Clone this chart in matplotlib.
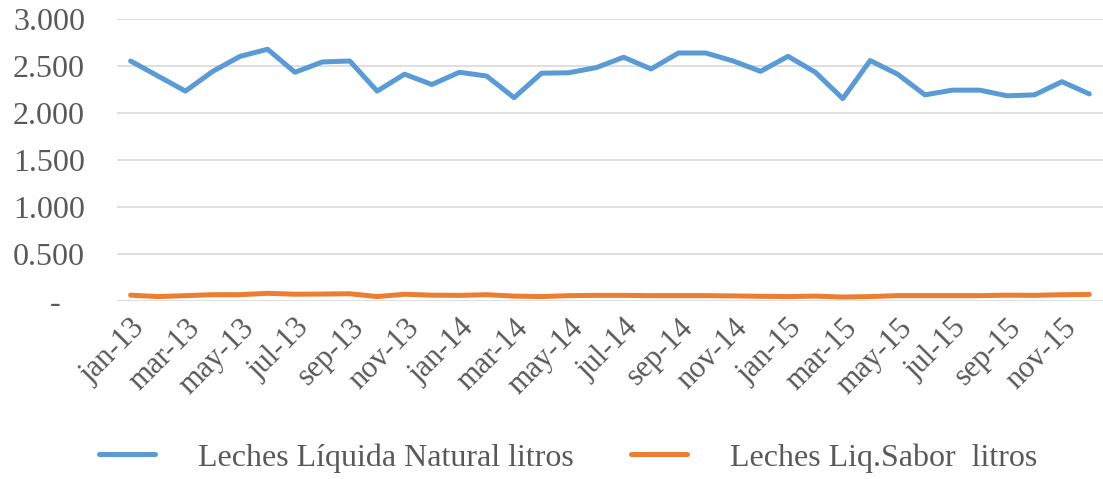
import matplotlib

matplotlib.use("Agg")
import matplotlib.pyplot as plt

months = ["jan", "feb", "mar", "apr", "may", "jun", "jul", "aug", "sep", "oct", "nov", "dec"]
years = ["13", "14", "15"]
labels = [f"{m}-{y}" for y in years for m in months]

natural = [
    2550, 2390, 2230, 2440, 2600, 2675, 2430, 2540, 2550, 2230, 2410, 2300,
    2430, 2390, 2160, 2420, 2425, 2480, 2590, 2465, 2635, 2635, 2550, 2440,
    2600, 2430, 2150, 2555, 2410, 2190, 2240, 2240, 2180, 2190, 2330, 2200,
]
sabor = [
    60, 45, 55, 65, 65, 80, 70, 72, 75, 45, 70, 60,
    58, 65, 50, 45, 55, 58, 58, 55, 55, 55, 52, 48,
    45, 50, 40, 45, 55, 55, 55, 55, 60, 58, 65, 68,
]
yticks = [0, 500, 1000, 1500, 2000, 2500, 3000]
ytick_labels = ["-   ", "0.500", "1.000", "1.500", "2.000", "2.500", "3.000"]

plt.rcParams["font.family"] = ["Liberation Serif", "DejaVu Serif"]
text_color = "#595959"

fig = plt.figure(figsize=(11.03, 4.79), dpi=100)
ax = fig.add_axes([0.106, 0.372, 0.894, 0.589])

x = list(range(len(labels)))
ax.plot(x, natural, color="#5B9BD5", linewidth=3.6, solid_capstyle="round",
        solid_joinstyle="round", label="Leches Líquida Natural litros")
ax.plot(x, sabor, color="#ED7D31", linewidth=3.6, solid_capstyle="round",
        solid_joinstyle="round", label="Leches Liq.Sabor  litros")

ax.set_xlim(-0.5, len(labels) - 0.5)
ax.set_ylim(0, 3000)
ax.set_yticks(yticks)
ax.set_yticklabels(ytick_labels)
ax.set_xticks(x[::2])
ax.set_xticklabels(labels[::2], rotation=45, ha="right", rotation_mode="anchor")

ax.grid(axis="y", color="#d9d9d9", linewidth=1.2)
ax.set_axisbelow(True)
for s in ax.spines.values():
    s.set_visible(False)
ax.tick_params(axis="y", length=0, labelsize=23, labelcolor=text_color, pad=23)
ax.tick_params(axis="x", length=0, labelsize=22, labelcolor=text_color, pad=9)

fig.legend(loc="center", bbox_to_anchor=(0.515, 0.044), ncol=2, frameon=False,
           fontsize=23, handlelength=1.75, handletextpad=1.35, columnspacing=1.8,
           labelcolor=text_color)

fig.savefig("out.png", dpi=100)
